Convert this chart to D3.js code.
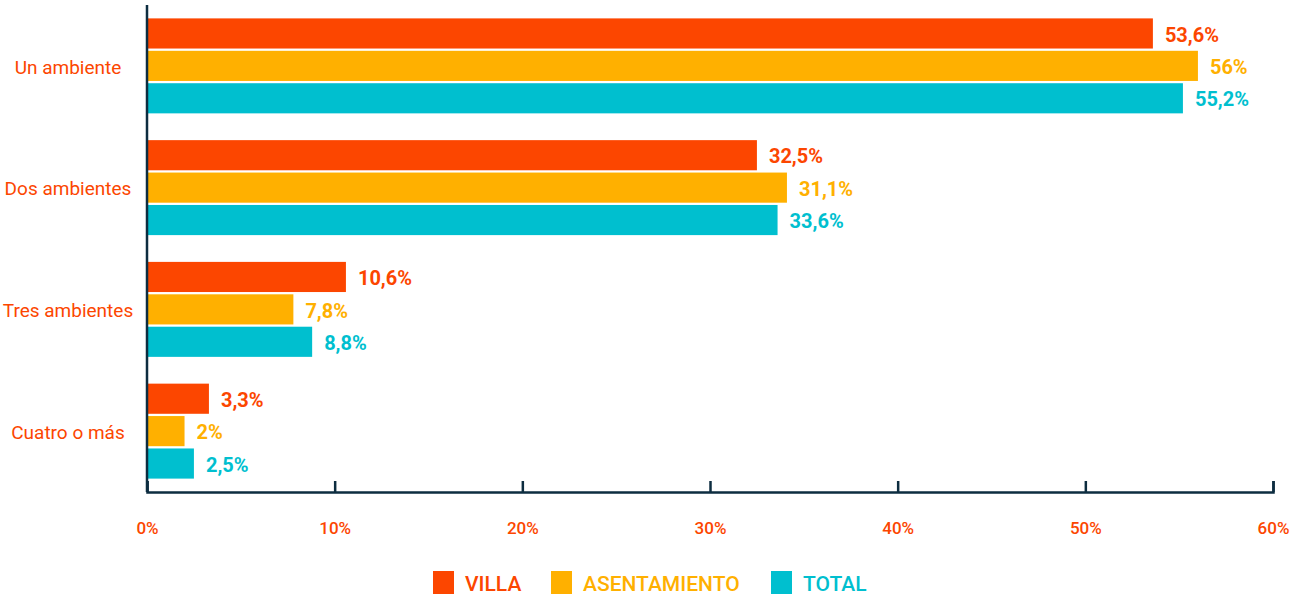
<!DOCTYPE html>
<html>
<head>
<meta charset="utf-8">
<script src="https://cdn.jsdelivr.net/npm/d3@7"></script>
<style>
  body { margin: 0; background: #fff; }
  svg { display: block; font-family: Roboto, "Noto Sans", sans-serif; }
</style>
</head>
<body>
<svg id="chart" width="1303" height="598"></svg>
<script>
// data
var categories = ["Un ambiente", "Dos ambientes", "Tres ambientes", "Cuatro o más"];
var seriesNames = ["VILLA", "ASENTAMIENTO", "TOTAL"];
var villa = [53.6, 32.5, 10.6, 3.3];
var asentamiento = [56, 34.1, 7.8, 2];   // bar for "Dos ambientes" is drawn at ~34, label says 31,1
var total = [55.2, 33.6, 8.8, 2.5];
var villaLabels = ["53,6%", "32,5%", "10,6%", "3,3%"];
var asentamientoLabels = ["56%", "31,1%", "7,8%", "2%"];
var totalLabels = ["55,2%", "33,6%", "8,8%", "2,5%"];
var xTicks = [0, 10, 20, 30, 40, 50, 60];

var colors = ["#fc4600", "#ffb000", "#00bfcf"];
var axisColor = "#0d2d40";
var textColor = "#fc4600";

var svg = d3.select("#chart");
var x0 = 147, x1 = 1273, yTop = 5, yBottom = 492;

var x = d3.scaleLinear().domain([0, 60]).range([x0, x1]);
var y = d3.scaleBand().domain(categories).range([yTop, yBottom])
          .paddingInner(0.22).paddingOuter(0.11);
var ySub = d3.scaleBand().domain(seriesNames).range([0, y.bandwidth()]).paddingInner(0.07);

var allValues = [villa, asentamiento, total];
var allLabels = [villaLabels, asentamientoLabels, totalLabels];

var rows = [];
categories.forEach(function (c, i) {
    seriesNames.forEach(function (s, j) {
        rows.push({cat: c, series: s, idx: j, value: allValues[j][i], label: allLabels[j][i]});
    });
});

// bars
svg.append("g").selectAll("rect")
    .data(rows)
    .enter()
    .append("rect")
    .attr("x", x(0))
    .attr("y", function (d) { return y(d.cat) + ySub(d.series); })
    .attr("width", function (d) { return x(d.value) - x(0); })
    .attr("height", ySub.bandwidth())
    .style("fill", function (d) { return colors[d.idx]; });

// value labels
svg.append("g").selectAll("text")
    .data(rows)
    .enter()
    .append("text")
    .attr("x", function (d) { return x(d.value) + 12; })
    .attr("y", function (d) { return y(d.cat) + ySub(d.series) + ySub.bandwidth() / 2 + 1; })
    .attr("dy", "0.36em")
    .style("font-size", "20px")
    .style("font-weight", "700")
    .style("fill", function (d) { return colors[d.idx]; })
    .text(function (d) { return d.label; });

// bottom axis, ticks pointing inward
var xAxis = d3.axisBottom(x)
    .tickValues(xTicks)
    .tickSize(-11)
    .tickPadding(30)
    .tickFormat(function (d) { return d + "%"; });

var gx = svg.append("g")
    .attr("transform", "translate(0," + yBottom + ")")
    .call(xAxis);
gx.select(".domain").attr("stroke", axisColor).attr("stroke-width", 2.5);
gx.selectAll(".tick line").attr("stroke", axisColor).attr("stroke-width", 2.5);
gx.selectAll(".tick text")
    .attr("fill", textColor)
    .style("font-size", "17px")
    .style("font-weight", "500")
    .style("font-family", "Roboto, sans-serif");

// left axis line
svg.append("line")
    .attr("x1", x0).attr("x2", x0)
    .attr("y1", yTop).attr("y2", yBottom)
    .attr("stroke", axisColor)
    .attr("stroke-width", 2.5);

// category labels
svg.append("g").selectAll("text")
    .data(categories)
    .enter()
    .append("text")
    .attr("x", 68)
    .attr("y", function (d) { return y(d) + y.bandwidth() / 2 + 1; })
    .attr("dy", "0.36em")
    .attr("text-anchor", "middle")
    .style("font-size", "19px")
    .style("fill", textColor)
    .text(function (d) { return d; });

// legend
var legendX = [433, 551, 771];
var legend = svg.append("g").selectAll("g")
    .data(seriesNames)
    .enter()
    .append("g")
    .attr("transform", function (d, i) { return "translate(" + legendX[i] + ",571)"; });

legend.append("rect")
    .attr("width", 21)
    .attr("height", 23)
    .style("fill", function (d, i) { return colors[i]; });

legend.append("text")
    .attr("x", 32)
    .attr("y", 12)
    .attr("dy", "0.36em")
    .style("font-size", "21px")
    .style("font-weight", "500")
    .style("fill", function (d, i) { return colors[i]; })
    .text(function (d) { return d; });
</script>
</body>
</html>
